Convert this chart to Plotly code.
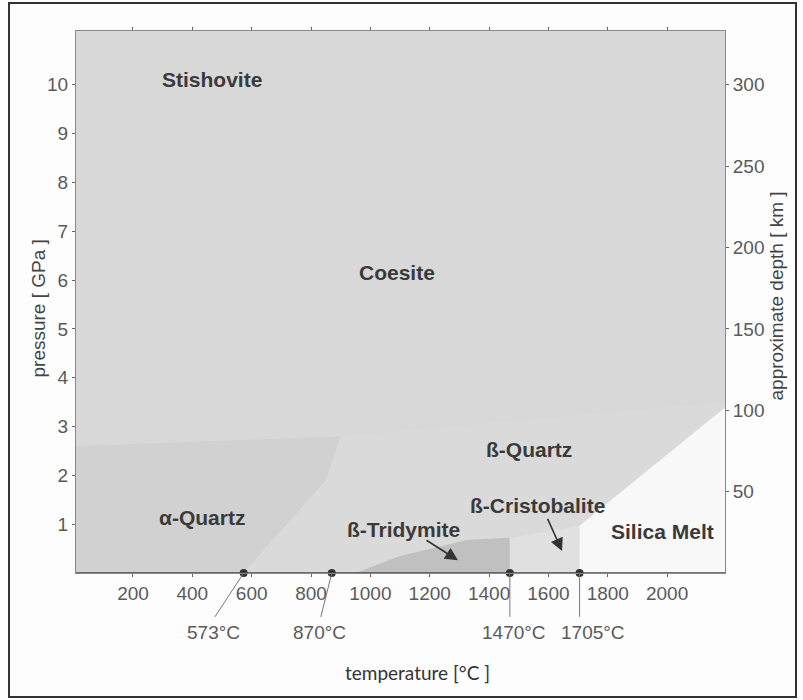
import plotly.graph_objects as go

# --- phase-field outlines (temperature in °C, pressure in GPa) ---
alpha_quartz_T = [8, 573, 850, 900, 8]
alpha_quartz_P = [0, 0, 1.9, 2.8, 2.6]

beta_quartz_T = [573, 1705, 1705, 2195, 2195, 900, 850]
beta_quartz_P = [0, 0, 0.97, 3.39, 3.5, 2.8, 1.9]

tridymite_T = [950, 1470, 1470, 1330, 1100, 950]
tridymite_P = [0, 0, 0.72, 0.68, 0.35, 0]

cristobalite_T = [1470, 1705, 1705, 1470]
cristobalite_P = [0, 0, 0.97, 0.72]

melt_T = [1705, 1705, 2195, 2195]
melt_P = [0, 0.97, 3.39, 0]

# --- transition temperatures at ambient pressure ---
transition_T = [573, 870, 1470, 1705]
transition_labels = ["573°C", "870°C", "1470°C", "1705°C"]
label_shift_T = [-103, -40, 13, 44]      # label offset from the point, °C
leader_end_T = [476, 833, 1470, 1705]

# --- phase names and where they sit ---
phase_names = ["Stishovite", "Coesite", "α-Quartz", "ß-Quartz",
               "ß-Tridymite", "ß-Cristobalite", "Silica Melt"]
phase_T = [466, 1090, 432, 1535, 1112, 1564, 1983]
phase_P = [10.1, 6.15, 1.14, 2.53, 0.9, 1.39, 0.84]

# arrows: (tail T, tail P, head T, head P)
arrows = [(1184, 0.69, 1295, 0.26), (1595, 1.14, 1646, 0.45)]

# axis ticks
T_ticks = [200, 400, 600, 800, 1000, 1200, 1400, 1600, 1800, 2000]
P_ticks = [1, 2, 3, 4, 5, 6, 7, 8, 9, 10]
depth_ticks = [50, 100, 150, 200, 250, 300]

T_range = [8, 2195]
P_range = [0, 11.1]
depth_range = [0, 333]

TICK_FONT = dict(family="Liberation Sans, Arial", size=19, color="#5a5a5a")

fig = go.Figure()


def field(T, P, color):
    fig.add_trace(go.Scatter(x=T, y=P, fill="toself", fillcolor=color,
                             mode="lines", line=dict(width=0),
                             hoverinfo="skip", showlegend=False))


field(alpha_quartz_T, alpha_quartz_P, "#d1d1d1")
field(beta_quartz_T, beta_quartz_P, "#dadada")
field(tridymite_T, tridymite_P, "#c0c0c0")
field(cristobalite_T, cristobalite_P, "#e0e0e0")
field(melt_T, melt_P, "#f8f8f8")

# transition points on the temperature axis
fig.add_trace(go.Scatter(x=transition_T, y=[0] * len(transition_T),
                         mode="markers", cliponaxis=False,
                         marker=dict(size=8, color="#333333"),
                         hoverinfo="skip", showlegend=False))

# empty trace so the depth axis is drawn
fig.add_trace(go.Scatter(x=[None], y=[None], yaxis="y2", showlegend=False))

shapes = []
# bottom axis line (heavier than the frame)
shapes.append(dict(type="line", xref="paper", yref="y", x0=0, x1=1, y0=0, y1=0,
                   line=dict(color="#444444", width=1.5)))
# leader lines from the transition points to their labels
for t, te in zip(transition_T, leader_end_T):
    shapes.append(dict(type="line", xref="x", yref="paper", x0=t, x1=te,
                       y0=0, y1=-0.081, line=dict(color="#777777", width=1)))
# outer frame around the whole figure
shapes.append(dict(type="rect", xref="paper", yref="paper",
                   x0=(9 - 76) / 649, x1=(796 - 76) / 649,
                   y0=(573 - 697) / 542, y1=(573 - 3) / 542,
                   line=dict(color="#333333", width=2)))

annotations = []
for t, s, lab in zip(transition_T, label_shift_T, transition_labels):
    annotations.append(dict(x=t + s, y=-0.109, xref="x", yref="paper",
                            text=lab, showarrow=False, font=TICK_FONT,
                            xanchor="center", yanchor="middle"))

for name, t, p in zip(phase_names, phase_T, phase_P):
    annotations.append(dict(x=t, y=p, xref="x", yref="y", text=f"<b>{name}</b>",
                            showarrow=False, xanchor="center", yanchor="middle",
                            font=dict(family="Liberation Sans, Arial", size=21,
                                      color="#3a3a3a")))

for t0, p0, t1, p1 in arrows:
    annotations.append(dict(x=t1, y=p1, ax=t0, ay=p0, xref="x", yref="y",
                            axref="x", ayref="y", text="", showarrow=True,
                            arrowhead=2, arrowsize=1.6, arrowwidth=1.6,
                            arrowcolor="#333333"))

# axis titles
annotations.append(dict(x=(417 - 76) / 649, y=(573 - 672) / 542, xref="paper",
                        yref="paper", text="temperature [°C ]", showarrow=False,
                        yanchor="middle",
                        font=dict(family="Lato", size=19, color="#333333")))
annotations.append(dict(x=(26 - 76) / 649, y=(573 - 309) / 542, xref="paper",
                        yref="paper", text="pressure [ GPa ]", showarrow=False,
                        textangle=-90,
                        font=dict(family="Liberation Sans, Arial", size=19,
                                  color="#444444")))
annotations.append(dict(x=(788 - 76) / 649, y=(573 - 296) / 542, xref="paper",
                        yref="paper", text="approximate depth [ km ]",
                        showarrow=False, textangle=-90,
                        font=dict(family="Liberation Sans, Arial", size=19,
                                  color="#444444")))

fig.update_layout(
    width=803, height=700,
    margin=dict(l=76, r=78, t=31, b=127),
    paper_bgcolor="#fdfdfd",
    plot_bgcolor="#d8d8d8",
    showlegend=False,
    shapes=shapes,
    annotations=annotations,
    xaxis=dict(range=T_range, tickvals=T_ticks, ticks="outside", ticklen=3,
               tickcolor="#666666", tickfont=TICK_FONT, showgrid=False,
               zeroline=False, showline=True, linecolor="#888888", linewidth=1,
               mirror="ticks"),
    yaxis=dict(range=P_range, tickvals=P_ticks, ticks="outside", ticklen=3,
               tickcolor="#666666", tickfont=TICK_FONT, showgrid=False,
               zeroline=False, showline=True, linecolor="#888888", linewidth=1,
               mirror=True),
    yaxis2=dict(range=depth_range, tickvals=depth_ticks, overlaying="y",
                side="right", ticks="outside", ticklen=3, tickcolor="#666666",
                tickfont=TICK_FONT, showgrid=False, zeroline=False,
                showline=False),
)

fig.write_html("out.html")
